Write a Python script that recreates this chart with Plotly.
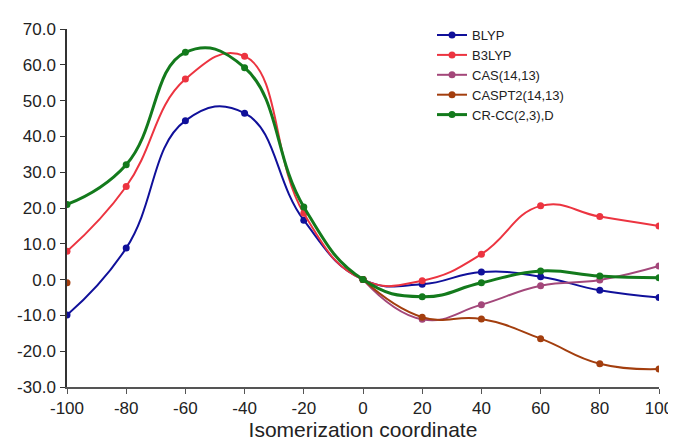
import plotly.graph_objects as go

x = [-100, -80, -60, -40, -20, 0, 20, 40, 60, 80, 100]
x_ticks = [-100, -80, -60, -40, -20, 0, 20, 40, 60, 80, 100]
x_ticklabels = ["-100", "-80", "-60", "-40", "-20", "0", "20", "40", "60", "80", "100"]
y_ticks = [-30, -20, -10, 0, 10, 20, 30, 40, 50, 60, 70]
y_ticklabels = ["-30.0", "-20.0", "-10.0", "0.0", "10.0", "20.0", "30.0", "40.0", "50.0", "60.0", "70.0"]

blyp = [-9.9, 8.8, 44.4, 46.5, 16.6, 0.0, -1.3, 2.1, 0.8, -3.0, -5.0]
b3lyp = [7.9, 26.0, 56.0, 62.4, 18.5, 0.0, -0.3, 7.1, 20.6, 17.6, 15.0]
cas = [None, None, None, None, None, 0.0, -11.1, -7.0, -1.7, -0.1, 3.8]
caspt2 = [-0.9, None, None, None, None, 0.0, -10.5, -11.0, -16.5, -23.5, -25.0]
crcc = [21.0, 32.1, 63.5, 59.2, 20.3, 0.0, -4.8, -0.9, 2.4, 1.0, 0.5]

series = [
    ("BLYP", blyp, "#10109a", 2),
    ("B3LYP", b3lyp, "#ec3440", 2),
    ("CAS(14,13)", cas, "#a3477a", 2),
    ("CASPT2(14,13)", caspt2, "#a33e0e", 2),
    ("CR-CC(2,3),D", crcc, "#137a1c", 3),
]

fig = go.Figure()
for name, ys, color, w in series:
    fig.add_trace(go.Scatter(
        x=x, y=ys, name=name, mode="lines+markers",
        line=dict(color=color, width=w, shape="spline", smoothing=1.3),
        marker=dict(color=color, size=7),
        connectgaps=False,
    ))

fig.update_layout(
    width=668, height=433,
    margin=dict(l=59, r=17, t=15, b=54),
    paper_bgcolor="white", plot_bgcolor="white",
    font=dict(family="Liberation Sans, Arial, sans-serif", color="#222222"),
    showlegend=True,
    legend=dict(x=0.6166, y=1.025, xanchor="left", yanchor="top",
                font=dict(size=13, color="#222222"), bgcolor="rgba(0,0,0,0)",
                tracegroupgap=0),
    xaxis=dict(range=[-100, 100], tickvals=x_ticks, ticktext=x_ticklabels,
               automargin=False,
               showgrid=False, zeroline=False, showline=True, linecolor="#555555", linewidth=1.5,
               ticks="outside", ticklen=5, tickcolor="#555555",
               tickfont=dict(size=17),
               title=dict(text="Isomerization coordinate", font=dict(size=21), standoff=4)),
    yaxis=dict(range=[-30, 70], tickvals=y_ticks, ticktext=y_ticklabels,
               ticklabelstandoff=1, automargin=False,
               showgrid=False, zeroline=False, showline=True, linecolor="#333333", linewidth=1.5,
               ticks="outside", ticklen=5, tickcolor="#333333",
               tickfont=dict(size=17)),
)

fig.write_html("out.html")
